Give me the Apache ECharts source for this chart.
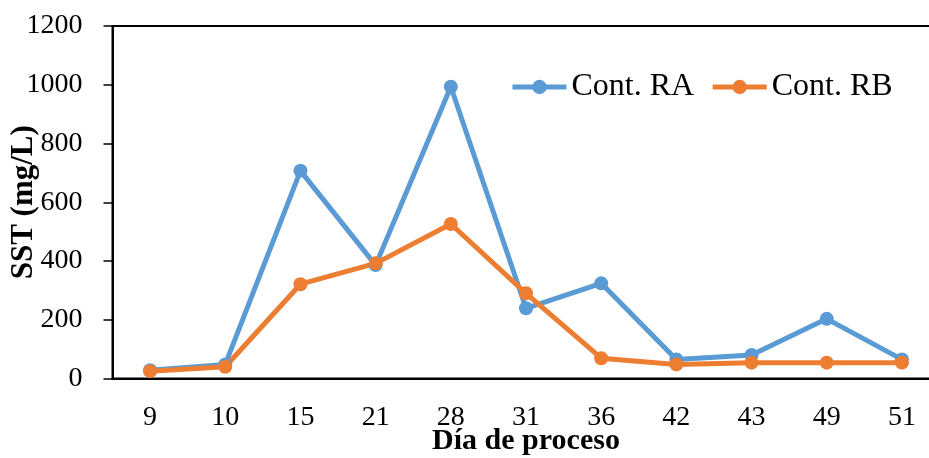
<!DOCTYPE html>
<html>
<head>
<meta charset="utf-8">
<script src="https://cdn.jsdelivr.net/npm/echarts@6/dist/echarts.min.js"></script>
<style>
  html, body { margin: 0; padding: 0; background: #fff; }
  #chart { width: 929px; height: 458px; }
</style>
</head>
<body>
<div id="chart"></div>
<script>
// Process days on the x axis
const days = ['9', '10', '15', '21', '28', '31', '36', '42', '43', '49', '51'];
// Total suspended solids (mg/L) per reactor
const contRA = [28, 48, 707, 386, 993, 239, 324, 65, 80, 203, 65];
const contRB = [25, 40, 321, 392, 526, 290, 69, 48, 54, 54, 54];
// Value axis ticks
const yMin = 0, yMax = 1200, yStep = 200;

const serif = '"Liberation Serif", "Times New Roman", serif';
const blue = '#5B9BD5';
const orange = '#ED7D31';

const chart = echarts.init(document.getElementById('chart'), null, { renderer: 'canvas' });

function lineSeries(name, data, color) {
  return {
    name: name,
    type: 'line',
    data: data,
    symbol: 'circle',
    symbolSize: 14,
    showSymbol: true,
    lineStyle: { color: color, width: 5 },
    itemStyle: { color: color },
    emphasis: { disabled: true },
    animation: false
  };
}

chart.setOption({
  backgroundColor: '#fff',
  animation: false,
  grid: {
    left: 112.5,
    top: 26,
    width: 827,
    bottom: 79.5,
    show: true,
    borderColor: '#000',
    borderWidth: 2,
    containLabel: false,
    outerBoundsMode: 'none'
  },
  legend: {
    left: 505,
    top: 66,
    itemWidth: 54,
    itemHeight: 18,
    itemGap: 16,
    lineStyle: { width: 5 },
    textStyle: { fontFamily: serif, fontSize: 32, color: '#000' },
    data: ['Cont. RA', 'Cont. RB']
  },
  xAxis: {
    type: 'category',
    data: days,
    boundaryGap: true,
    axisLine: { show: true, lineStyle: { color: '#000', width: 2 } },
    axisTick: { show: false },
    axisLabel: { fontFamily: serif, fontSize: 28, color: '#000', margin: 25 },
    splitLine: { show: false },
    name: 'Día de proceso',
    nameLocation: 'middle',
    nameGap: 48,
    nameMoveOverlap: false,
    nameTextStyle: { fontFamily: serif, fontSize: 30, fontWeight: 'bold', color: '#000' }
  },
  yAxis: {
    type: 'value',
    min: yMin,
    max: yMax,
    interval: yStep,
    axisLine: { show: true, lineStyle: { color: '#000', width: 2 } },
    axisTick: { show: true, inside: false, length: 9, lineStyle: { color: '#000', width: 1.5 } },
    axisLabel: { fontFamily: serif, fontSize: 28, color: '#000', margin: 30, formatter: (v) => String(v) },
    splitLine: { show: false },
    name: 'SST (mg/L)',
    nameLocation: 'middle',
    nameRotate: 90,
    nameGap: 73,
    nameMoveOverlap: false,
    nameTextStyle: { fontFamily: serif, fontSize: 31, fontWeight: 'bold', color: '#000' }
  },
  series: [
    lineSeries('Cont. RA', contRA, blue),
    lineSeries('Cont. RB', contRB, orange)
  ]
});
</script>
</body>
</html>
